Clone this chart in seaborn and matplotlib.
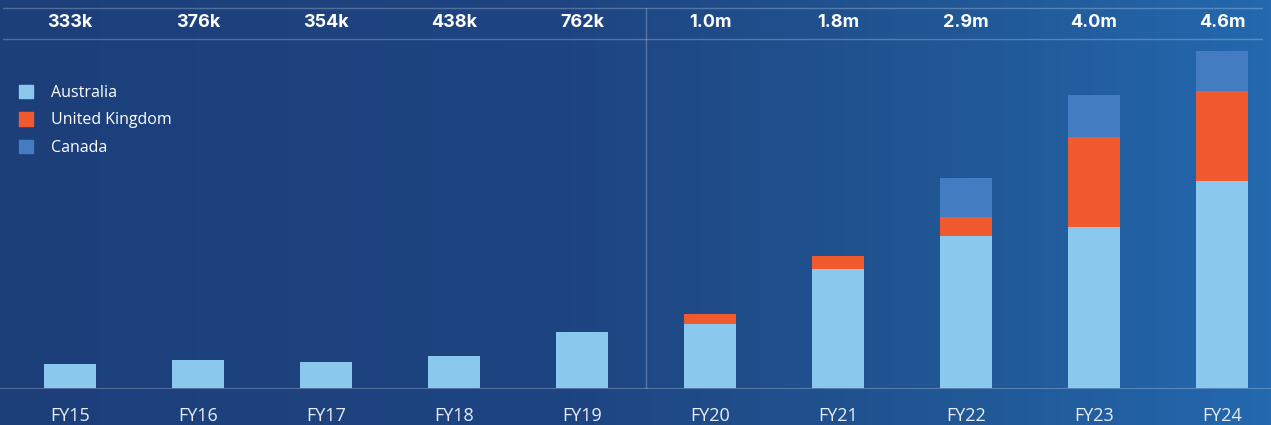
import numpy as np
import pandas as pd
import matplotlib
matplotlib.use("Agg")
import matplotlib.pyplot as plt
from matplotlib.colors import LinearSegmentedColormap
from matplotlib.patches import Patch
from matplotlib.lines import Line2D
import seaborn as sns

# data (thousands)
years = ["FY15", "FY16", "FY17", "FY18", "FY19", "FY20", "FY21", "FY22", "FY23", "FY24"]
australia = [333, 376, 354, 438, 762, 870, 1620, 2080, 2200, 2825]
uk = [0, 0, 0, 0, 0, 135, 180, 260, 1230, 1230]
canada = [0, 0, 0, 0, 0, 0, 0, 530, 570, 545]
totals = ["333k", "376k", "354k", "438k", "762k", "1.0m", "1.8m", "2.9m", "4.0m", "4.6m"]

AU_COL = "#8bc8ed"
UK_COL = "#f15a2f"
CA_COL = "#437cc0"
LINE_COL = (1, 1, 1, 0.24)

df = pd.DataFrame({"year": years, "au": australia, "uk": uk, "ca": canada})
df["uk_top"] = df["au"] + df["uk"]
df["total"] = df["uk_top"] + df["ca"]

sns.set_style("white")
plt.rcParams["font.family"] = ["Open Sans", "DejaVu Sans"]

W, H = 1271, 425
fig = plt.figure(figsize=(W / 100, H / 100), dpi=100)

# background gradient
bg = fig.add_axes([0, 0, 1, 1])
bg.axis("off")
cmap = LinearSegmentedColormap.from_list(
    "bg", [(0, "#1c3f7a"), (0.45, "#1e4582"), (0.75, "#215795"), (1, "#2468ae")])
bg.imshow(np.linspace(0, 1, 256)[None, :], aspect="auto", cmap=cmap,
          extent=[0, 1, 0, 1])
bg.set_xlim(0, 1)
bg.set_ylim(0, 1)

base_px, top_px = 388, 39
ax = fig.add_axes([0, (H - base_px) / H, 1, (base_px - top_px) / H])
ax.set_facecolor("none")

# stacked bars: draw cumulative totals from the top down
kw = dict(data=df, x="year", width=0.406, saturation=1, errorbar=None, ax=ax,
          linewidth=0, edgecolor="none")
sns.barplot(y="total", color=CA_COL, **kw)
sns.barplot(y="uk_top", color=UK_COL, **kw)
sns.barplot(y="au", color=AU_COL, **kw)

ax.set_xlim(-70 / 128, (W - 70) / 128)
ax.set_ylim(0, (base_px - top_px) * 13.65)
ax.set_xlabel("")
ax.set_ylabel("")
ax.set_yticks([])
ax.tick_params(axis="x", length=0, pad=14, labelsize=13, labelcolor="#e8edf5")

for s in ["left", "right", "top"]:
    ax.spines[s].set_visible(False)
ax.spines["bottom"].set_color(LINE_COL)

# rule lines
fig.add_artist(Line2D([3 / W, 1262 / W], [1 - 39 / H] * 2, color=LINE_COL, lw=1))
fig.add_artist(Line2D([3 / W, 1262 / W], [1 - 8 / H] * 2, color=LINE_COL, lw=1))
fig.add_artist(Line2D([646 / W] * 2, [1 - 8 / H, 1 - base_px / H], color=LINE_COL, lw=1))

# totals on top
for i, t in enumerate(totals):
    ax.text(i, (base_px - 22) / (base_px - top_px), t, transform=ax.get_xaxis_transform(),
            ha="center", va="center", color="white", fontsize=13, fontweight="bold",
            family=["Inter", "DejaVu Sans"])

handles = [Patch(color=AU_COL, label="Australia"),
           Patch(color=UK_COL, label="United Kingdom"),
           Patch(color=CA_COL, label="Canada")]
fig.legend(handles=handles, loc="upper left", bbox_to_anchor=(19 / W, 1 - 85 / H),
           frameon=False, fontsize=11.5, labelcolor="white", handlelength=0.9,
           handleheight=0.9, handletextpad=1.1, labelspacing=0.7, borderpad=0,
           borderaxespad=0)

fig.savefig("out.png", dpi=100)
